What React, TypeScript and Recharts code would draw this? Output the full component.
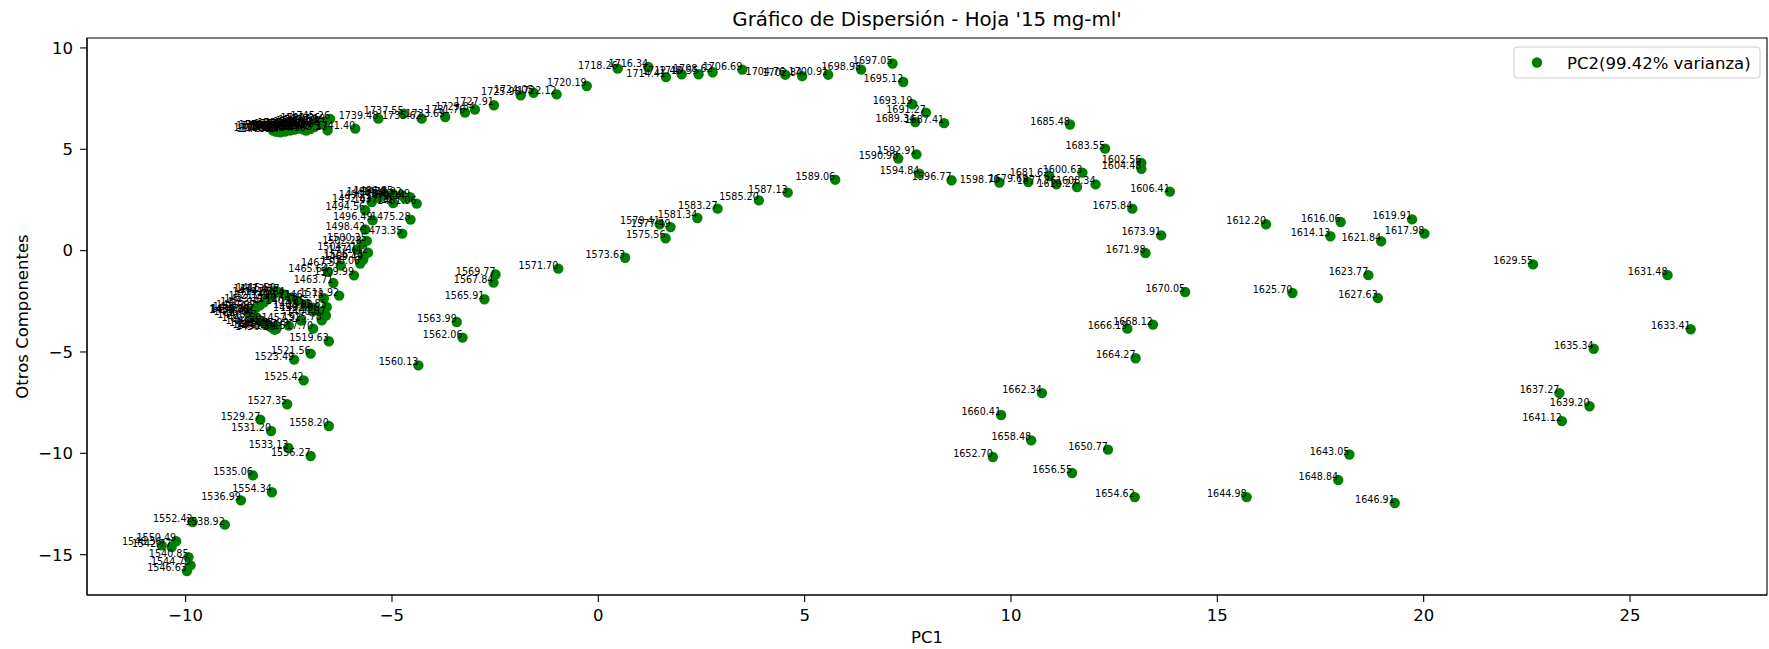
import { ScatterChart, Scatter, XAxis, YAxis, ReferenceArea } from 'recharts'

type Pt = [string, number, number]

// wavenumber label, PC1, otros componentes
const lowerCluster: Pt[] = [
  ['1400.07', -6.6, -3.2], ['1402.00', -6.75, -3.0], ['1403.93', -6.92, -2.82],
  ['1405.85', -7.1, -2.65], ['1407.78', -7.28, -2.48], ['1409.71', -7.45, -2.32],
  ['1411.64', -7.6, -2.18], ['1413.57', -7.72, -2.06], ['1415.50', -7.82, -1.98],
  ['1417.43', -7.88, -2.05], ['1419.35', -7.91, -2.21], ['1421.28', -8.0, -2.38],
  ['1423.21', -8.1, -2.55], ['1425.14', -8.2, -2.7], ['1427.07', -8.3, -2.84],
  ['1429.00', -8.38, -2.95], ['1430.92', -8.43, -3.02], ['1432.85', -8.46, -3.08],
  ['1434.78', -8.47, -3.1], ['1436.71', -8.44, -3.03], ['1438.64', -8.36, -3.18],
  ['1440.57', -8.27, -3.33], ['1442.50', -8.17, -3.47], ['1444.42', -8.07, -3.6],
  ['1446.35', -7.98, -3.72], ['1448.28', -7.9, -3.82], ['1450.21', -7.84, -3.9],
  ['1452.14', -7.8, -3.86], ['1454.07', -7.79, -3.77], ['1455.99', -7.5, -3.7],
  ['1457.92', -7.2, -3.45], ['1459.85', -6.92, -3.0], ['1461.78', -6.65, -2.35],
  ['1463.71', -6.42, -1.6],
]

const risingArm: Pt[] = [
  ['1465.64', -6.55, -1.05], ['1467.57', -6.24, -0.74], ['1469.49', -5.7, -0.45],
  ['1471.42', -5.58, -0.1], ['1473.35', -4.75, 0.84], ['1475.28', -4.55, 1.53],
  ['1477.21', -4.97, 2.35], ['1479.14', -4.68, 2.57], ['1481.06', -4.4, 2.32],
  ['1482.99', -4.56, 2.64], ['1484.92', -4.76, 2.73], ['1486.85', -4.97, 2.78],
  ['1488.78', -5.14, 2.73], ['1490.71', -5.33, 2.61], ['1492.63', -5.49, 2.4],
  ['1494.56', -5.65, 1.99], ['1496.49', -5.47, 1.49], ['1498.42', -5.65, 1.04],
  ['1500.35', -5.61, 0.48], ['1502.28', -5.73, 0.31], ['1504.21', -5.85, 0.05],
  ['1506.13', -5.69, -0.35], ['1508.06', -5.77, -0.64], ['1509.99', -5.92, -1.22],
]

const lowerArm: Pt[] = [
  ['1511.92', -6.28, -2.22], ['1513.85', -6.58, -2.78], ['1515.78', -6.7, -3.44],
  ['1517.70', -6.91, -3.85], ['1519.63', -6.53, -4.47], ['1521.56', -6.97, -5.08],
  ['1523.49', -7.37, -5.38], ['1525.42', -7.14, -6.4], ['1527.35', -7.54, -7.58],
  ['1529.27', -8.19, -8.34], ['1531.20', -7.93, -8.9], ['1533.13', -7.51, -9.74],
  ['1535.06', -8.37, -11.09], ['1536.99', -8.66, -12.32], ['1538.92', -9.05, -13.52],
  ['1540.85', -9.93, -15.12], ['1542.77', -10.34, -14.62], ['1544.70', -9.88, -15.53],
  ['1546.63', -9.97, -15.81], ['1548.56', -10.58, -14.54], ['1550.49', -10.23, -14.34],
  ['1552.42', -9.83, -13.39], ['1554.34', -7.91, -11.92], ['1556.27', -6.97, -10.13],
  ['1558.20', -6.53, -8.65],
]

const middleArc: Pt[] = [
  ['1560.13', -4.36, -5.66], ['1562.06', -3.29, -4.29], ['1563.99', -3.43, -3.52],
  ['1565.91', -2.76, -2.4], ['1567.84', -2.54, -1.58], ['1569.77', -2.49, -1.18],
  ['1571.70', -0.97, -0.89], ['1573.63', 0.65, -0.35], ['1575.56', 1.63, 0.61],
  ['1577.49', 1.75, 1.16], ['1579.41', 1.49, 1.3], ['1581.34', 2.4, 1.61],
  ['1583.27', 2.89, 2.07], ['1585.20', 3.89, 2.48], ['1587.13', 4.59, 2.86],
  ['1589.06', 5.74, 3.5], ['1590.98', 7.27, 4.54], ['1592.91', 7.71, 4.75],
  ['1594.84', 7.78, 3.8], ['1596.77', 8.56, 3.47], ['1598.70', 9.72, 3.36],
]

const rightLobe: Pt[] = [
  ['1600.63', 11.73, 3.85], ['1602.56', 13.16, 4.32], ['1604.48', 13.16, 4.04],
  ['1606.41', 13.85, 2.91], ['1608.34', 12.05, 3.27], ['1610.27', 11.6, 3.14],
  ['1612.20', 16.18, 1.3], ['1614.13', 17.74, 0.71], ['1616.06', 17.99, 1.41],
  ['1617.98', 20.02, 0.84], ['1619.91', 19.72, 1.54], ['1621.84', 18.97, 0.46],
  ['1623.77', 18.66, -1.21], ['1625.70', 16.82, -2.09], ['1627.63', 18.89, -2.34],
  ['1629.55', 22.65, -0.68], ['1631.48', 25.91, -1.21], ['1633.41', 26.47, -3.88],
  ['1635.34', 24.12, -4.84], ['1637.27', 23.29, -7.03], ['1639.20', 24.02, -7.68],
  ['1641.12', 23.35, -8.41],
]

const lowerLobe: Pt[] = [
  ['1643.05', 18.2, -10.06], ['1644.98', 15.71, -12.16], ['1646.91', 19.3, -12.45],
  ['1648.84', 17.93, -11.32], ['1650.77', 12.35, -9.82], ['1652.70', 9.56, -10.18],
  ['1654.62', 13.0, -12.16], ['1656.55', 11.48, -10.97], ['1658.48', 10.49, -9.36],
  ['1660.41', 9.76, -8.11], ['1662.34', 10.75, -7.03], ['1664.27', 13.02, -5.31],
  ['1666.19', 12.82, -3.85], ['1668.12', 13.44, -3.65], ['1670.05', 14.22, -2.04],
]

const returnArc: Pt[] = [
  ['1671.98', 13.26, -0.12], ['1673.91', 13.64, 0.75], ['1675.84', 12.94, 2.07],
  ['1677.76', 11.1, 3.27], ['1679.69', 10.42, 3.38], ['1681.62', 10.93, 3.68],
  ['1683.55', 12.28, 5.03], ['1685.48', 11.43, 6.22], ['1687.41', 8.38, 6.29],
  ['1689.34', 7.68, 6.34], ['1691.27', 7.94, 6.81], ['1693.19', 7.61, 7.22],
  ['1695.12', 7.39, 8.32], ['1697.05', 7.13, 9.23], ['1698.98', 6.37, 8.93],
  ['1700.91', 5.57, 8.68], ['1702.84', 4.94, 8.61], ['1704.76', 4.53, 8.68],
  ['1706.69', 3.49, 8.93], ['1708.62', 2.77, 8.8], ['1710.55', 2.43, 8.7],
  ['1712.48', 2.02, 8.7], ['1714.41', 1.64, 8.56], ['1716.34', 1.21, 9.06],
  ['1718.26', 0.47, 8.98], ['1720.19', -0.28, 8.12], ['1722.12', -1.01, 7.71],
  ['1724.05', -1.57, 7.79], ['1725.98', -1.88, 7.66], ['1727.91', -2.53, 7.17],
  ['1729.84', -2.99, 6.96], ['1731.76', -3.23, 6.81], ['1733.69', -3.71, 6.59],
  ['1735.62', -4.28, 6.51], ['1737.55', -4.72, 6.76], ['1739.48', -5.33, 6.51],
  ['1741.40', -5.89, 6.02], ['1743.33', -6.56, 5.93],
]

const upperCluster: Pt[] = [
  ['1745.26', -6.5, 6.5], ['1747.19', -6.62, 6.35], ['1749.12', -6.75, 6.22],
  ['1751.05', -6.88, 6.1], ['1752.98', -6.98, 6.0], ['1754.90', -7.08, 5.92],
  ['1756.83', -7.15, 5.98], ['1758.76', -7.22, 6.08], ['1760.69', -7.3, 6.15],
  ['1762.62', -7.38, 6.1], ['1764.55', -7.45, 6.02], ['1766.47', -7.52, 5.95],
  ['1768.40', -7.6, 5.9], ['1770.33', -7.68, 5.98], ['1772.26', -7.75, 6.06],
  ['1774.19', -7.82, 6.0], ['1776.12', -7.88, 5.92], ['1778.05', -7.8, 5.86],
  ['1779.97', -7.7, 5.84], ['1781.90', -7.58, 5.88], ['1783.83', -7.46, 5.93],
  ['1785.76', -7.36, 5.97], ['1787.69', -7.25, 6.02], ['1789.62', -7.12, 6.08],
  ['1791.54', -7.0, 6.14], ['1793.47', -6.92, 6.2], ['1795.40', -6.86, 6.26],
  ['1797.33', -6.8, 6.32], ['1799.26', -6.74, 6.38],
]

const xTicks = [-10, -5, 0, 5, 10, 15, 20, 25]
const yTicks = [-15, -10, -5, 0, 5, 10]
const X_DOMAIN: [number, number] = [-12.39, 28.32]
const Y_DOMAIN: [number, number] = [-16.99, 10.49]

const TITLE = "Gráfico de Dispersión - Hoja '15 mg-ml'"
const SERIES_NAME = 'PC2(99.42% varianza)'

const GREEN = '#008000'
const FONT = 'DejaVu Sans, sans-serif'

const points = [
  ...lowerCluster, ...risingArm, ...lowerArm, ...middleArc,
  ...rightLobe, ...lowerLobe, ...returnArc, ...upperCluster,
].map(([w, x, y]) => ({ w, x, y }))

// matplotlib uses a real minus sign
const fmt = (v: number) => (v < 0 ? `\u2212${Math.abs(v)}` : `${v}`)

function Dot(props: any) {
  const { cx, cy } = props
  if (cx == null || cy == null) return null
  return <circle cx={cx} cy={cy} r={5.2} fill={GREEN} />
}

function Tag(props: any) {
  const { cx, cy, payload } = props
  if (cx == null || cy == null) return null
  return (
    <text x={cx} y={cy} textAnchor="end" fontSize={9.6} fontFamily={FONT} fill="#000">
      {payload.w}
    </text>
  )
}

export default function App() {
  const tickStyle = { fill: '#000', fontSize: 16.5, fontFamily: FONT }
  return (
    <div style={{ position: 'absolute', left: 0, top: 0, width: 1769, height: 649, background: '#fff' }}>
      <ScatterChart width={1769} height={649} margin={{ top: 38, right: 2, bottom: 0, left: 0 }}>
        <XAxis
          type="number"
          dataKey="x"
          domain={X_DOMAIN}
          ticks={xTicks}
          allowDataOverflow
          tickFormatter={fmt}
          tick={tickStyle}
          tickLine={{ stroke: '#000', strokeWidth: 1.1 }}
          axisLine={{ stroke: '#000', strokeWidth: 1.1 }}
          tickSize={7}
          tickMargin={7}
          height={54}
        />
        <YAxis
          type="number"
          dataKey="y"
          domain={Y_DOMAIN}
          ticks={yTicks}
          allowDataOverflow
          tickFormatter={fmt}
          tick={tickStyle}
          tickLine={{ stroke: '#000', strokeWidth: 1.1 }}
          axisLine={{ stroke: '#000', strokeWidth: 1.1 }}
          tickSize={7}
          tickMargin={7}
          width={87}
        />
        <ReferenceArea
          x1={X_DOMAIN[0]}
          x2={X_DOMAIN[1]}
          y1={Y_DOMAIN[0]}
          y2={Y_DOMAIN[1]}
          fill="none"
          stroke="#000"
          strokeWidth={1.1}
          ifOverflow="visible"
        />
        <Scatter data={points} shape={Dot} isAnimationActive={false} />
        <Scatter data={points} shape={Tag} isAnimationActive={false} legendType="none" />
      </ScatterChart>
      <svg
        width={1769}
        height={649}
        style={{ position: 'absolute', left: 0, top: 0, pointerEvents: 'none' }}
        fontFamily={FONT}
      >
        <text x={927} y={26} textAnchor="middle" fontSize={19.8} fill="#000">
          {TITLE}
        </text>
        <text x={927} y={643} textAnchor="middle" fontSize={16.5} fill="#000">
          PC1
        </text>
        <text
          x={22}
          y={316.5}
          textAnchor="middle"
          dominantBaseline="central"
          fontSize={16.5}
          fill="#000"
          transform="rotate(-90, 22, 316.5)"
        >
          Otros Componentes
        </text>
        <rect x={1514} y={47} width={246} height={31} rx={3} fill="#fff" fillOpacity={0.8} stroke="#cccccc" />
        <circle cx={1537} cy={62.5} r={5.2} fill={GREEN} />
        <text x={1567} y={68.5} fontSize={16.5} fill="#000">
          {SERIES_NAME}
        </text>
      </svg>
    </div>
  )
}
